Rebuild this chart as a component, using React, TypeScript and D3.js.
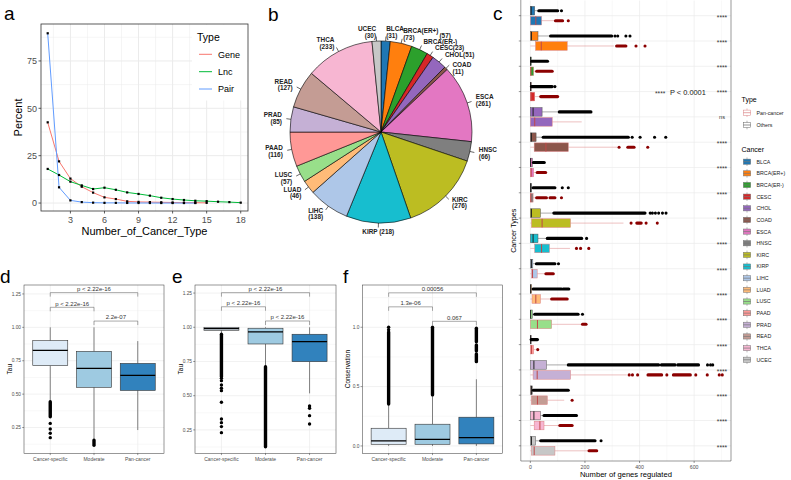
import React from "react";
import * as d3 from "d3";

const FONT = "'Liberation Sans', Arimo, Arial, Helvetica, sans-serif";

// ---------------- Panel a data ----------------
const cancerTypeNumbers = [1, 2, 3, 4, 5, 6, 7, 8, 9, 10, 11, 12, 13, 14, 15, 16, 17, 18];
const genePercent = [42.6, 22.0, 12.9, 8.6, 5.5, 3.0, 2.1, 0.9, 0.6, 0.5, 0.4, 0.3, 0.2, 0.2, 0.1];
const lncPercent = [18.0, 14.8, 11.3, 9.3, 7.4, 8.1, 7.0, 5.6, 4.8, 3.9, 2.8, 2.1, 1.6, 1.2, 1.0, 0.7, 0.5, 0.2];
const pairPercent = [89.6, 8.3, 1.4, 0.5, 0.2, 0.1, 0.1, 0.05, 0.03, 0.02, 0.01, 0.01, 0.0, 0.0];
const typeNames = ["Gene", "Lnc", "Pair"];
const typeColors = ["#F8766D", "#00BA38", "#619CFF"];
const aXTicks = [3, 6, 9, 12, 15, 18];
const aXMinor = [1.5, 4.5, 7.5, 10.5, 13.5, 16.5];
const aYTicks = [0, 25, 50, 75];
const aYMinor = [12.5, 37.5, 62.5, 87.5];

// ---------------- Panel b / c categories ----------------
const cancers = ["BLCA", "BRCA(ER+)", "BRCA(ER-)", "CESC", "CHOL", "COAD", "ESCA", "HNSC", "KIRC", "KIRP", "LIHC", "LUAD", "LUSC", "PAAD", "PRAD", "READ", "THCA", "UCEC"];
const cancerColors = ["#1f77b4", "#ff7f0e", "#2ca02c", "#d62728", "#9467bd", "#8c564b", "#e377c2", "#7f7f7f", "#bcbd22", "#17becf", "#aec7e8", "#ffbb78", "#98df8a", "#ff9896", "#c5b0d5", "#c49c94", "#f7b6d2", "#c7c7c7"];
const pieCounts = [31, 73, 57, 23, 51, 11, 261, 66, 276, 218, 138, 46, 57, 116, 85, 127, 233, 30];
const pieLabelLines = [["BLCA", "(31)"], ["BRCA(ER+)", "(73)"], ["(57)", "BRCA(ER-)"], ["CESC(23)"], ["CHOL(51)"], ["COAD", "(11)"], ["ESCA", "(261)"], ["HNSC", "(66)"], ["KIRC", "(276)"], ["KIRP (218)"], ["LIHC", "(138)"], ["LUAD", "(46)"], ["LUSC", "(57)"], ["PAAD", "(116)"], ["PRAD", "(85)"], ["READ", "(127)"], ["THCA", "(233)"], ["UCEC", "(30)"]];
// label layout nudges (pixels) for crowded labels
const pieLabelNudge: Record<number, { dy?: number; dx0?: number }> = { 2: { dy: -2.8, dx0: 16 }, 5: { dy: 6 } };

// ---------------- Panel c data: [lowerWhisker, q1, median, q3, upperWhisker] ----------------
const othersBoxes = [
  [0, 0, 3, 16, 31], [0, 0, 4, 28, 74], [0, 0, 1, 3, 3], [0, 0, 1, 3, 3], [0, 0, 10, 43, 106], [0, 0, 4, 21, 47],
  [0, 0, 1, 7, 10], [0, 0, 1, 5, 8], [0, 0, 4, 37, 86], [0, 0, 10, 28, 62], [0, 0, 4, 9, 22], [0, 0, 1, 5, 9],
  [0, 0, 1, 7, 15], [0, 0, 1, 2, 3], [0, 0, 13, 59, 139], [0, 0, 4, 7, 10], [0, 0, 13, 37, 50], [0, 0, 4, 19, 38],
];
const othersOutlierRuns = [
  [[31, 100]], [[74, 298]], [[5, 63]], [[4, 80]], [[106, 222]], [[47, 359]],
  [[11, 51]], [[10, 90]], [[86, 420]], [[62, 188]], [[22, 90]], [[10, 114], [120, 141]],
  [[16, 175]], [[3, 26]], [[139, 470], [480, 530], [540, 616]], [[11, 139]], [[50, 169]], [[38, 237]],
];
const othersOutlierPoints = [
  [114], [310, 320, 350, 365], [], [90], [], [373, 402, 455, 496],
  [], [117, 139], [439, 447, 458, 470, 484, 497], [206], [103], [],
  [191], [], [649, 660, 668], [], [], [259],
];
const panBoxes = [
  [0, 0, 20, 41, 87], [0, 19, 40, 135, 306], [0, 0, 2, 12, 22], [0, 0, 3, 16, 37], [0, 0, 16, 80, 188], [0, 14, 57, 139, 319],
  [0, 0, 3, 12, 24], [0, 0, 2, 10, 19], [0, 4, 43, 147, 341], [0, 16, 41, 70, 145], [0, 4, 8, 25, 57], [0, 6, 20, 37, 78],
  [0, 0, 26, 78, 184], [0, 0, 4, 12, 20], [0, 10, 25, 147, 353], [0, 4, 26, 62, 124], [0, 14, 35, 50, 108], [0, 4, 14, 90, 215],
];
const panOutlierRuns = [
  [[92, 118]], [[316, 350]], [[23, 80]], [[38, 100]], [], [[357, 380]],
  [[25, 56]], [[23, 59], [72, 90]], [[390, 406]], [], [[57, 84]], [[78, 135]],
  [[191, 204]], [], [[431, 481], [524, 586]], [], [[108, 153]], [[215, 243]],
];
const panOutlierPoints = [
  [139], [387, 420], [], [], [], [325, 430],
  [], [114], [369, 424, 465], [169, 184, 214], [], [],
  [], [27], [362, 374, 393, 500, 606, 648, 692, 703], [153], [], [],
];
const significance = ["****", "****", "****", "****", "ns", "****", "****", "****", "****", "****", "****", "****", "****", "****", "****", "****", "****", "****"];
const cXTicks = [0, 200, 400, 600];
const cXMinor = [100, 300, 500, 700];
const typeLegend = ["Pan-cancer", "Others"];

// ---------------- Panels d, e, f data ----------------
const groupNames = ["Cancer-specific", "Moderate", "Pan-cancer"];
const groupFills = ["#DEEBF7", "#9ECAE1", "#3182BD"];

const tauBoxesD = [[0.443, 0.713, 0.828, 0.9, 1.0], [0.156, 0.551, 0.693, 0.82, 1.0], [0.231, 0.528, 0.64, 0.73, 0.897]];
const tauRunsD = [[[0.33, 0.443]], [[0.117, 0.156]], []];
const tauPointsD = [[0.281, 0.239, 0.207, 0.174], [], []];
const tauBracketsD = [[0, 2, 1.26], [0, 1, 1.15], [1, 2, 1.047]];
const tauBracketLabelsD = ["p < 2.22e-16", "p < 2.22e-16", "2.2e-07"];

const tauBoxesE = [[0.949, 0.978, 0.99, 1.0, 1.0], [0.712, 0.878, 0.966, 0.993, 1.0], [0.517, 0.749, 0.895, 0.949, 1.0]];
const tauRunsE = [[[0.64, 0.949]], [[0.127, 0.712]], []];
const tauPointsE = [[0.627, 0.61, 0.578, 0.554, 0.537, 0.452, 0.33, 0.303, 0.274, 0.23], [], [0.425, 0.408, 0.354, 0.293]];
const tauBracketsE = [[0, 2, 1.253], [0, 1, 1.15], [1, 2, 1.046]];
const tauBracketLabelsE = ["p < 2.22e-16", "p < 2.22e-16", "p < 2.22e-16"];

const consBoxesF = [[0, 0.014, 0.042, 0.149, 0.354], [0, 0.014, 0.056, 0.183, 0.43], [0, 0.017, 0.07, 0.242, 0.562]];
const consRunsF = [[[0.354, 0.96]], [[0.43, 1.0]], [[0.71, 0.775], [0.8, 0.85], [0.878, 0.991]]];
const consPointsF = [[0.98, 1.0], [], []];
const consBracketsF = [[0, 2, 1.29], [0, 1, 1.172], [1, 2, 1.05]];
const consBracketLabelsF = ["0.00056", "1.3e-06", "0.067"];

const tauTicks = [0.25, 0.5, 0.75, 1.0, 1.25];
const tauTickLabels = ["0.25", "0.50", "0.75", "1.00", "1.25"];
const tauMinor = [0.125, 0.375, 0.625, 0.875, 1.125];
const consTicks = [0, 0.5, 1.0];
const consTickLabels = ["0.0", "0.5", "1.0"];
const consMinor = [0.25, 0.75, 1.25];

const GRID = "#EBEBEB";
const BORDER = "#333333";
const TICKTXT = "#4D4D4D";

function Letter({ x, y, t }: { x: number; y: number; t: string }) {
  return <text x={x} y={y} fontSize={19} fontFamily={FONT} fill="#000">{t}</text>;
}

function PanelA() {
  const L = 41, R = 248, T = 24, B = 211;
  const x = d3.scaleLinear().domain([0.41, 18.64]).range([L, R]);
  const y = d3.scaleLinear().domain([-4.2, 94.5]).range([B, T]);
  const seriesValues = [genePercent, lncPercent, pairPercent];
  const line = d3.line<number>().x((_, i) => x(cancerTypeNumbers[i])).y((d) => y(d));
  const legendY = [54.3, 71.7, 89];
  return (
    <g fontFamily={FONT}>
      <rect x={L} y={T} width={R - L} height={B - T} fill="#fff" />
      {aXMinor.map((v) => <line key={"xm" + v} x1={x(v)} x2={x(v)} y1={T} y2={B} stroke={GRID} strokeWidth={0.5} />)}
      {aYMinor.map((v) => <line key={"ym" + v} y1={y(v)} y2={y(v)} x1={L} x2={R} stroke={GRID} strokeWidth={0.5} />)}
      {aXTicks.map((v) => <line key={"xg" + v} x1={x(v)} x2={x(v)} y1={T} y2={B} stroke={GRID} strokeWidth={1} />)}
      {aYTicks.map((v) => <line key={"yg" + v} y1={y(v)} y2={y(v)} x1={L} x2={R} stroke={GRID} strokeWidth={1} />)}
      {seriesValues.map((vals, s) => (
        <path key={"l" + s} d={line(vals) || ""} fill="none" stroke={typeColors[s]} strokeWidth={1} />
      ))}
      {seriesValues.map((vals, s) =>
        vals.map((v, i) => (
          <rect key={"p" + s + "-" + i} x={x(cancerTypeNumbers[i]) - 1.1} y={y(v) - 1.1} width={2.2} height={2.2} fill="#000" />
        ))
      )}
      {/* legend */}
      <rect x={192} y={T + 0.5} width={R - 192 - 0.5} height={100 - T} fill="#fff" />
      <text x={197} y={41} fontSize={10.5} fill="#000">Type</text>
      {typeNames.map((n, i) => (
        <g key={"lg" + n}>
          <line x1={199} x2={212} y1={legendY[i]} y2={legendY[i]} stroke={typeColors[i]} strokeWidth={1} />
          <text x={218} y={legendY[i] + 3.3} fontSize={9} fill="#000">{n}</text>
        </g>
      ))}
      <rect x={L} y={T} width={R - L} height={B - T} fill="none" stroke={BORDER} strokeWidth={0.8} />
      {aXTicks.map((v) => (
        <g key={"xt" + v}>
          <line x1={x(v)} x2={x(v)} y1={B} y2={B + 2.5} stroke={BORDER} strokeWidth={0.8} />
          <text x={x(v)} y={B + 11.5} fontSize={9} fill={TICKTXT} textAnchor="middle">{v}</text>
        </g>
      ))}
      {aYTicks.map((v) => (
        <g key={"yt" + v}>
          <line x1={L - 2.5} x2={L} y1={y(v)} y2={y(v)} stroke={BORDER} strokeWidth={0.8} />
          <text x={L - 4} y={y(v) + 3.2} fontSize={9} fill={TICKTXT} textAnchor="end">{v}</text>
        </g>
      ))}
      <text x={(L + R) / 2} y={235} fontSize={11} textAnchor="middle" fill="#000">Number_of_Cancer_Type</text>
      <text transform={`translate(22,${(T + B) / 2}) rotate(-90)`} fontSize={11} textAnchor="middle" fill="#000">Percent</text>
    </g>
  );
}

function PanelB() {
  const cx = 381, cy = 132, r = 91;
  const arcs = d3.pie<number>().sort(null).value((d) => d)(pieCounts);
  const arc = d3.arc<d3.PieArcDatum<number>>().innerRadius(0).outerRadius(r);
  const fs = 6.4, lh = 6.6;
  return (
    <g transform={`translate(${cx},${cy})`} fontFamily={FONT}>
      {arcs.map((a, i) => (
        <path key={"s" + i} d={arc(a) || ""} fill={cancerColors[i]} stroke="#000" strokeWidth={0.6} />
      ))}
      {arcs.map((a, i) => {
        const mid = (a.startAngle + a.endAngle) / 2;
        const s = Math.sin(mid), c = -Math.cos(mid);
        const nudge = pieLabelNudge[i] || {};
        const lines = pieLabelLines[i];
        const anchor = c > 0.99 ? "middle" : s < 0 ? "end" : "start";
        const tx = 1.1 * r * s, ty = 1.1 * r * c + (nudge.dy || 0);
        return (
          <g key={"lab" + i}>
            <line x1={r * s} y1={r * c} x2={1.05 * r * s} y2={1.05 * r * c} stroke="#000" strokeWidth={0.6} />
            {lines.map((t, k) => (
              <text key={k} x={tx + (k === 0 ? nudge.dx0 || 0 : 0)} y={ty - ((lines.length - 1) * lh) / 2 + k * lh + fs * 0.36}
                fontSize={fs} fontWeight="bold" fill="#222" textAnchor={anchor}>{t}</text>
            ))}
          </g>
        );
      })}
    </g>
  );
}

function PanelC() {
  const L = 520.8, R = 731, T = 0.5, B = 461;
  const x = d3.scaleLinear().domain([-35, 735]).range([L, R]);
  const y = d3.scaleLinear().domain([0.4, 18.6]).range([T, B]);
  const off = 5, hh = 4.3, pr = 1.55;
  const othersStroke = "#555555", panStroke = "#DA8082", panMedian = "#C04848";
  const groups = [
    { boxes: othersBoxes, runs: othersOutlierRuns, pts: othersOutlierPoints, dy: -off, stroke: othersStroke, med: "#222", out: "#000" },
    { boxes: panBoxes, runs: panOutlierRuns, pts: panOutlierPoints, dy: off, stroke: panStroke, med: panMedian, out: "#8B0000" },
  ];
  const legY0 = 161.7, legStep = 11.65;
  const key = (cy: number, fill: string, stroke: string) => (
    <g>
      <line x1={747} x2={747} y1={cy - 4.3} y2={cy + 4.3} stroke={stroke} strokeWidth={0.5} />
      <rect x={743.3} y={cy - 2.6} width={7.4} height={5.2} fill={fill} stroke={stroke} strokeWidth={0.5} />
      <line x1={743.3} x2={750.7} y1={cy} y2={cy} stroke={stroke} strokeWidth={0.7} />
    </g>
  );
  return (
    <g fontFamily={FONT}>
      <rect x={L} y={-2} width={R - L} height={B + 2} fill="#fff" />
      {cXMinor.map((v) => <line key={"cxm" + v} x1={x(v)} x2={x(v)} y1={T} y2={B} stroke={GRID} strokeWidth={0.35} />)}
      {cXTicks.map((v) => <line key={"cxg" + v} x1={x(v)} x2={x(v)} y1={T} y2={B} stroke={GRID} strokeWidth={0.7} />)}
      {cancers.map((c, i) => <line key={"cyg" + i} x1={L} x2={R} y1={y(i + 1)} y2={y(i + 1)} stroke={GRID} strokeWidth={0.7} />)}
      {cancers.map((c, i) =>
        groups.map((g, gi) => {
          const [lo, q1, md, q3, hi] = g.boxes[i];
          const cy = y(i + 1) + g.dy;
          return (
            <g key={"bx" + i + "-" + gi}>
              <line x1={x(lo)} x2={x(q1)} y1={cy} y2={cy} stroke={g.stroke} strokeWidth={0.5} />
              <line x1={x(q3)} x2={x(hi)} y1={cy} y2={cy} stroke={g.stroke} strokeWidth={0.5} />
              <rect x={x(q1)} y={cy - hh} width={Math.max(x(q3) - x(q1), 0.8)} height={2 * hh} fill={cancerColors[i]} stroke={g.stroke} strokeWidth={0.5} />
              <line x1={x(md)} x2={x(md)} y1={cy - hh} y2={cy + hh} stroke={g.med} strokeWidth={1} />
              {g.runs[i].map((rn, k) => (
                <line key={"r" + k} x1={x(rn[0])} x2={x(rn[1])} y1={cy} y2={cy} stroke={g.out} strokeWidth={pr * 2} strokeLinecap="round" />
              ))}
              {g.pts[i].map((v, k) => <circle key={"pt" + k} cx={x(v)} cy={cy} r={pr} fill={g.out} />)}
            </g>
          );
        })
      )}
      {significance.map((s, i) => (
        <text key={"sig" + i} x={722} y={y(i + 1) + (s === "ns" ? 1.9 : 3.9)} fontSize={s === "ns" ? 5.6 : 6.6} fill="#333" textAnchor="middle">{s}</text>
      ))}
      <text x={655} y={96.2} fontSize={6.6} fill="#333">****</text>
      <text x={670} y={94.8} fontSize={7.4} fill="#222">P &lt; 0.0001</text>
      <line x1={L} x2={L} y1={-2} y2={B} stroke={BORDER} strokeWidth={0.5} />
      <line x1={R} x2={R} y1={-2} y2={B} stroke={BORDER} strokeWidth={0.5} />
      <line x1={L} x2={R} y1={B} y2={B} stroke={BORDER} strokeWidth={0.5} />
      {cancers.map((c, i) => <line key={"cyt" + i} x1={L - 2} x2={L} y1={y(i + 1)} y2={y(i + 1)} stroke={BORDER} strokeWidth={0.5} />)}
      {cXTicks.map((v) => (
        <g key={"cxt" + v}>
          <line x1={x(v)} x2={x(v)} y1={B} y2={B + 2} stroke={BORDER} strokeWidth={0.5} />
          <text x={x(v)} y={B + 7.5} fontSize={5.2} fill={TICKTXT} textAnchor="middle">{v}</text>
        </g>
      ))}
      <text x={(L + R) / 2} y={477} fontSize={7.6} textAnchor="middle" fill="#000">Number of genes regulated</text>
      <text transform={`translate(515.5,${(T + B) / 2}) rotate(-90)`} fontSize={7.2} textAnchor="middle" fill="#000">Cancer Types</text>
      {/* legends */}
      <text x={741.5} y={101.5} fontSize={7} fill="#000">Type</text>
      {typeLegend.map((t, i) => (
        <g key={"tl" + i}>
          {key(112.7 + i * 12.3, "#fff", i === 0 ? panStroke : "#666")}
          <text x={756.5} y={112.7 + i * 12.3 + 1.9} fontSize={5.3} fill="#222">{t}</text>
        </g>
      ))}
      <text x={741.5} y={151.5} fontSize={7} fill="#000">Cancer</text>
      {cancers.map((c, i) => (
        <g key={"cl" + i}>
          {key(legY0 + i * legStep, cancerColors[i], "#777")}
          <text x={756.5} y={legY0 + i * legStep + 1.9} fontSize={5.3} fill="#222">{c}</text>
        </g>
      ))}
    </g>
  );
}

type BoxPanelProps = {
  L: number; R: number; T: number; B: number; domain: [number, number];
  ticks: number[]; tickLabels: string[]; minor: number[];
  boxes: number[][]; runs: number[][][]; points: number[][];
  brackets: number[][]; bracketLabels: string[]; title: string; titleX: number;
};

function BoxPanel(p: BoxPanelProps) {
  const y = d3.scaleLinear().domain(p.domain).range([p.B, p.T]);
  const x = d3.scalePoint<string>().domain(groupNames).range([p.L, p.R]).padding(0.6);
  const bw = 35, pr = 1.7;
  return (
    <g fontFamily={FONT}>
      <rect x={p.L} y={p.T} width={p.R - p.L} height={p.B - p.T} fill="#fff" />
      {p.minor.map((v) => <line key={"m" + v} x1={p.L} x2={p.R} y1={y(v)} y2={y(v)} stroke={GRID} strokeWidth={0.35} />)}
      {p.ticks.map((v) => <line key={"g" + v} x1={p.L} x2={p.R} y1={y(v)} y2={y(v)} stroke={GRID} strokeWidth={0.7} />)}
      {groupNames.map((g) => <line key={"vg" + g} x1={x(g)} x2={x(g)} y1={p.T} y2={p.B} stroke={GRID} strokeWidth={0.7} />)}
      {groupNames.map((g, i) => {
        const [lo, q1, md, q3, hi] = p.boxes[i];
        const cx = x(g) as number;
        return (
          <g key={"b" + g}>
            <line x1={cx} x2={cx} y1={y(lo)} y2={y(q1)} stroke="#333" strokeWidth={0.6} />
            <line x1={cx} x2={cx} y1={y(q3)} y2={y(hi)} stroke="#333" strokeWidth={0.6} />
            <rect x={cx - bw / 2} y={y(q3)} width={bw} height={Math.max(y(q1) - y(q3), 0.8)} fill={groupFills[i]} stroke="#333" strokeWidth={0.6} />
            <line x1={cx - bw / 2} x2={cx + bw / 2} y1={y(md)} y2={y(md)} stroke="#000" strokeWidth={1.2} />
            {p.runs[i].map((rn, k) => (
              <line key={"r" + k} x1={cx} x2={cx} y1={y(rn[0])} y2={y(rn[1])} stroke="#000" strokeWidth={pr * 2} strokeLinecap="round" />
            ))}
            {p.points[i].map((v, k) => <circle key={"pt" + k} cx={cx} cy={y(v)} r={pr} fill="#000" />)}
          </g>
        );
      })}
      {p.brackets.map((b, k) => {
        const x1 = x(groupNames[b[0]]) as number, x2 = x(groupNames[b[1]]) as number, yy = y(b[2]);
        return (
          <g key={"br" + k}>
            <path d={`M${x1},${yy + 4}V${yy}H${x2}V${yy + 4}`} fill="none" stroke="#555" strokeWidth={0.5} />
            <text x={(x1 + x2) / 2} y={yy - 1.8} fontSize={6} fill="#333" textAnchor="middle">{p.bracketLabels[k]}</text>
          </g>
        );
      })}
      <rect x={p.L} y={p.T} width={p.R - p.L} height={p.B - p.T} fill="none" stroke={BORDER} strokeWidth={0.5} />
      {p.ticks.map((v, k) => (
        <g key={"t" + v}>
          <line x1={p.L - 1.8} x2={p.L} y1={y(v)} y2={y(v)} stroke={BORDER} strokeWidth={0.5} />
          <text x={p.L - 3} y={y(v) + 1.7} fontSize={4.8} fill={TICKTXT} textAnchor="end">{p.tickLabels[k]}</text>
        </g>
      ))}
      {groupNames.map((g) => (
        <g key={"xt" + g}>
          <line x1={x(g)} x2={x(g)} y1={p.B} y2={p.B + 1.8} stroke={BORDER} strokeWidth={0.5} />
          <text x={x(g)} y={p.B + 7.5} fontSize={5} fill={TICKTXT} textAnchor="middle">{g}</text>
        </g>
      ))}
      <text transform={`translate(${p.titleX},${(p.T + p.B) / 2}) rotate(-90)`} fontSize={6.5} textAnchor="middle" fill="#000">{p.title}</text>
    </g>
  );
}

export default function App() {
  return (
    <svg width={791} height={480} viewBox="0 0 791 480" style={{ position: "absolute", left: 0, top: 0, display: "block" }}>
      <rect x={0} y={0} width={791} height={480} fill="#fff" />
      <PanelA />
      <PanelB />
      <PanelC />
      <BoxPanel L={24} R={164} T={285} B={453.3} domain={[0.057, 1.317]} ticks={tauTicks} tickLabels={tauTickLabels} minor={tauMinor}
        boxes={tauBoxesD} runs={tauRunsD} points={tauPointsD} brackets={tauBracketsD} bracketLabels={tauBracketLabelsD} title="Tau" titleX={12} />
      <BoxPanel L={195} R={336} T={285} B={453.3} domain={[0.079, 1.309]} ticks={tauTicks} tickLabels={tauTickLabels} minor={tauMinor}
        boxes={tauBoxesE} runs={tauRunsE} points={tauPointsE} brackets={tauBracketsE} bracketLabels={tauBracketLabelsE} title="Tau" titleX={183} />
      <BoxPanel L={362.3} R={502.7} T={285} B={453.3} domain={[-0.062, 1.356]} ticks={consTicks} tickLabels={consTickLabels} minor={consMinor}
        boxes={consBoxesF} runs={consRunsF} points={consPointsF} brackets={consBracketsF} bracketLabels={consBracketLabelsF} title="Conservation" titleX={350} />
      <Letter x={4} y={20} t="a" />
      <Letter x={268} y={21} t="b" />
      <Letter x={493} y={20} t="c" />
      <Letter x={0} y={283} t="d" />
      <Letter x={172} y={283} t="e" />
      <Letter x={343} y={283} t="f" />
    </svg>
  );
}
